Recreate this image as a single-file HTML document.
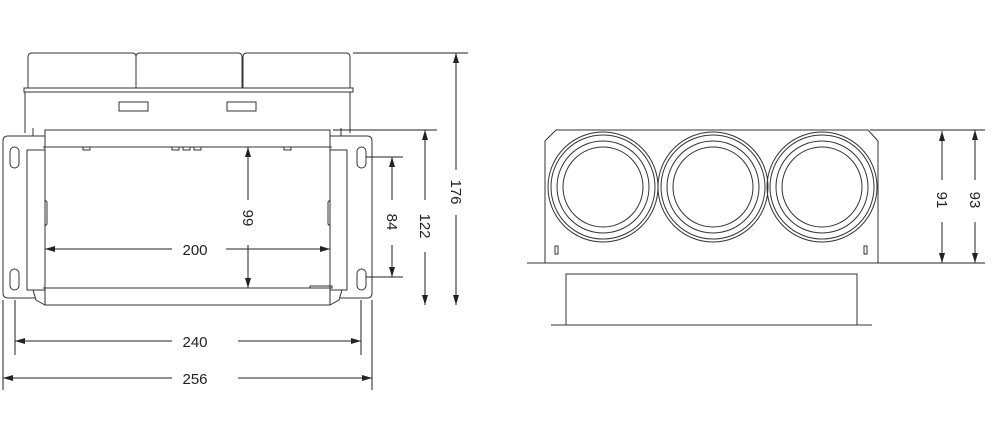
<!DOCTYPE html>
<html><head><style>
html,body{margin:0;padding:0;background:#fff;}
svg{display:block;}
text{font-family:"Liberation Sans",sans-serif;font-size:15px;fill:#222;}
</style></head><body>
<svg width="1000" height="446" viewBox="0 0 1000 446" xmlns="http://www.w3.org/2000/svg">
<defs>
<marker id="a" viewBox="0 0 10 6" refX="10" refY="3" markerWidth="10" markerHeight="6" orient="auto-start-reverse" markerUnits="userSpaceOnUse"><path d="M0,0 L10,3 L0,6z" fill="#222"/></marker>
</defs>
<g fill="none" stroke="#333" stroke-width="1">
<!-- left top blocks -->
<path d="M28,88 V57 Q28,53 32,53 H132 Q136,53 136,57 V88"/>
<path d="M136,88 V57 Q136,53 140,53 H238 Q242,53 242,57 V88"/>
<path d="M243,88 V57 Q243,53 247,53 H346 Q350,53 350,57 V88"/>
<rect x="24" y="88" width="329" height="4"/>
<path d="M25,92 V133 M350,92 V133"/>
<rect x="119" y="102" width="29" height="9"/><rect x="227" y="102" width="29" height="9"/>
<!-- flange plate -->
<path d="M8,136 H45 M330,136 H367 Q372,136 372,141 V293 Q372,298 367,298 H340 M35,298 H8 Q3,298 3,293 V141 Q3,136 8,136"/>
<rect x="10" y="147" width="9" height="21" rx="4.5"/><rect x="10" y="269" width="9" height="21" rx="4.5"/>
<rect x="357" y="147" width="9" height="21" rx="4.5"/><rect x="357" y="269" width="9" height="21" rx="4.5"/>
<rect x="27" y="150" width="18" height="140"/><rect x="330" y="150" width="17" height="140"/>
<rect x="45" y="130" width="285" height="175"/>
<line x1="43" y1="147" x2="332" y2="147"/><line x1="43" y1="288" x2="332" y2="288"/>
<path d="M33,290 L36,300 L45,305 M342,290 L339,300 L330,305"/>
<path d="M45,200 L47,202 V224 L45,226 M330,200 L328,202 V224 L330,226"/>
<path d="M33,128 V136 M341,128 V136"/>
<rect x="83" y="147" width="7" height="3"/><rect x="172" y="147" width="7" height="3"/><rect x="183" y="147" width="7" height="3"/><rect x="194" y="147" width="7" height="3"/><rect x="284" y="147" width="7" height="3"/>
<rect x="310" y="286" width="22" height="2"/>
<!-- dims left -->
<g stroke="#222">
<path d="M353,53 H468 M333,130 H437 M366,157 H403 M366,277 H403 M15,300 V355 M361,300 V355 M3,300 V390 M372,300 V390"/>
<line x1="456" y1="53" x2="456" y2="170" marker-start="url(#a)"/><line x1="456" y1="215" x2="456" y2="305" marker-end="url(#a)"/>
<line x1="425" y1="130" x2="425" y2="200" marker-start="url(#a)"/><line x1="425" y1="252" x2="425" y2="305" marker-end="url(#a)"/>
<line x1="392" y1="157" x2="392" y2="200" marker-start="url(#a)"/><line x1="392" y1="245" x2="392" y2="277" marker-end="url(#a)"/>
<line x1="248" y1="147" x2="248" y2="200" marker-start="url(#a)"/><line x1="248" y1="245" x2="248" y2="288" marker-end="url(#a)"/>
<line x1="45" y1="249" x2="172" y2="249" marker-start="url(#a)"/><line x1="226" y1="249" x2="330" y2="249" marker-end="url(#a)"/>
<line x1="15" y1="341" x2="172" y2="341" marker-start="url(#a)"/><line x1="238" y1="341" x2="361" y2="341" marker-end="url(#a)"/>
<line x1="3" y1="378" x2="172" y2="378" marker-start="url(#a)"/><line x1="238" y1="378" x2="372" y2="378" marker-end="url(#a)"/>
</g>
<!-- right view -->
<path d="M545,263 V141 L556,130 H868 L878,141 V263"/>
<line x1="527" y1="263" x2="895" y2="263"/>
<g id="c">
<circle cx="603" cy="187" r="55"/><circle cx="603" cy="187" r="52"/><circle cx="603" cy="187" r="46"/><circle cx="603" cy="187" r="40"/>
</g>
<circle cx="713" cy="187" r="55"/><circle cx="713" cy="187" r="52"/><circle cx="713" cy="187" r="46"/><circle cx="713" cy="187" r="40"/>
<circle cx="822" cy="187" r="55"/><circle cx="822" cy="187" r="52"/><circle cx="822" cy="187" r="46"/><circle cx="822" cy="187" r="40"/>
<rect x="555" y="246" width="3" height="8"/><rect x="864" y="246" width="3" height="8"/>
<rect x="566" y="274" width="291" height="51"/>
<line x1="551" y1="325" x2="872" y2="325"/>
<g stroke="#222">
<path d="M870,130 H985 M880,263 H985"/>
<line x1="942" y1="131" x2="942" y2="180" marker-start="url(#a)"/><line x1="942" y1="222" x2="942" y2="263" marker-end="url(#a)"/>
<line x1="975" y1="130" x2="975" y2="180" marker-start="url(#a)"/><line x1="975" y1="222" x2="975" y2="263" marker-end="url(#a)"/>
</g>
</g>
<text x="195" y="255" text-anchor="middle">200</text>
<text x="195" y="347" text-anchor="middle">240</text>
<text x="195" y="384" text-anchor="middle">256</text>
<text transform="translate(451,192) rotate(90)" text-anchor="middle">176</text>
<text transform="translate(420,226) rotate(90)" text-anchor="middle">122</text>
<text transform="translate(387,222) rotate(90)" text-anchor="middle">84</text>
<text transform="translate(243,218) rotate(90)" text-anchor="middle">99</text>
<text transform="translate(937,200) rotate(90)" text-anchor="middle">91</text>
<text transform="translate(970,200) rotate(90)" text-anchor="middle">93</text>
</svg>
</body></html>
